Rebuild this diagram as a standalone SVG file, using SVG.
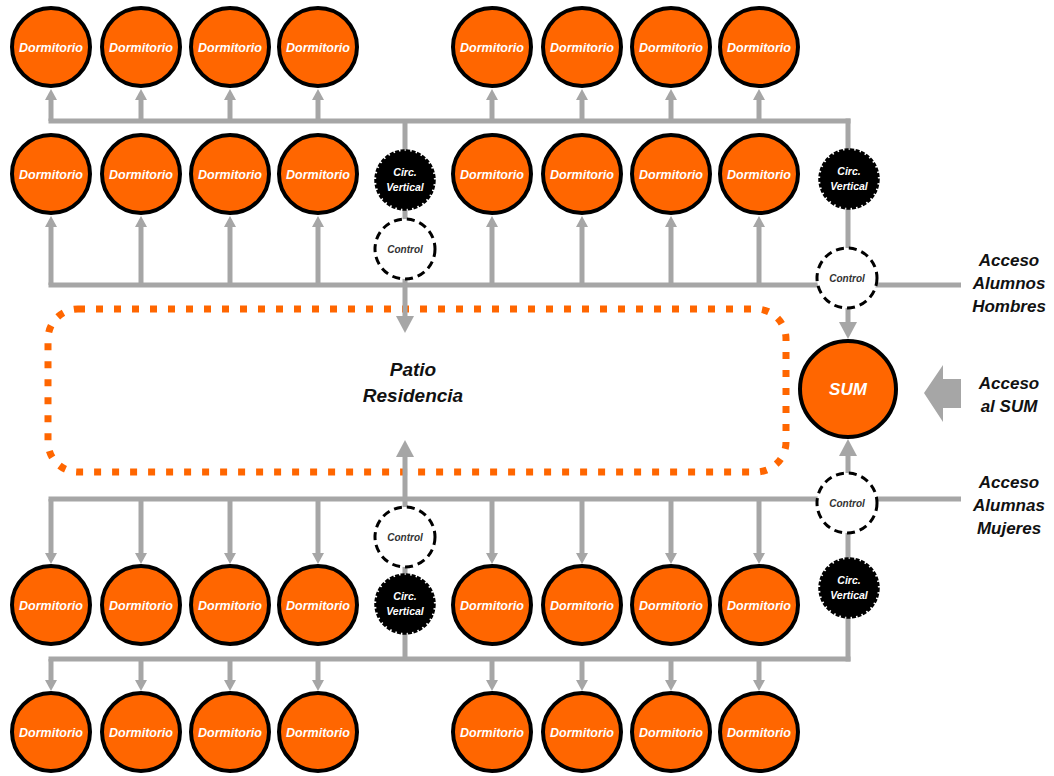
<svg xmlns="http://www.w3.org/2000/svg" width="1054" height="776" viewBox="0 0 1054 776">
  <style>
    .bus { stroke: #a6a6a6; stroke-width: 5; fill: none; }
    .dorm circle { fill: #ff6600; stroke: #000; stroke-width: 4; }
    .dorm text { font-family: "Liberation Sans", Arial, sans-serif; font-weight: bold; font-style: italic; font-size: 12.5px; fill: #fff; text-anchor: middle; }
    .cv .core { fill: #000; }
    .cv .edge { fill: none; stroke: #000; stroke-width: 3.5; stroke-dasharray: 4 1.5; }
    .cv text { font-family: "Liberation Sans", Arial, sans-serif; font-weight: bold; font-style: italic; font-size: 10.5px; fill: #fff; text-anchor: middle; }
    .ctl circle { fill: #fff; stroke: #000; stroke-width: 3; stroke-dasharray: 8 5; }
    .ctl text { font-family: "Liberation Sans", Arial, sans-serif; font-weight: bold; font-style: italic; font-size: 10px; fill: #333; text-anchor: middle; }
    .label { font-family: "Liberation Sans", Arial, sans-serif; font-weight: bold; font-style: italic; font-size: 17px; fill: #111; text-anchor: middle; }
    .patio-label { font-family: "Liberation Sans", Arial, sans-serif; font-weight: bold; font-style: italic; font-size: 19px; fill: #111; text-anchor: middle; }
  </style>
  <defs>
    <marker id="head" markerUnits="userSpaceOnUse" markerWidth="12" markerHeight="12" refX="0" refY="6" orient="auto" viewBox="0 0 12 12">
      <path d="M0,0 L11,6 L0,12 z" fill="#a6a6a6"/>
    </marker>
    <marker id="headBig" markerUnits="userSpaceOnUse" markerWidth="17" markerHeight="18" refX="0" refY="9" orient="auto" viewBox="0 0 17 18">
      <path d="M0,0 L17,9 L0,18 z" fill="#a6a6a6"/>
    </marker>
  </defs>

  <!-- courtyard -->
  <g id="patio">
    <rect x="48" y="309" width="738" height="163" rx="30" ry="30" fill="none" stroke="#ff6600" stroke-width="7" stroke-dasharray="7 11"/>
    <text class="patio-label" x="413" y="376">Patio</text>
    <text class="patio-label" x="413" y="402">Residencia</text>
  </g>

  <!-- circulation lines -->
  <g id="connectors">
    <!-- upper block buses -->
    <line class="bus" x1="48.5" y1="121" x2="850.5" y2="121"/>
    <line class="bus" x1="48.5" y1="285" x2="961" y2="285"/>
    <!-- lower block buses -->
    <line class="bus" x1="48.5" y1="499" x2="961" y2="499"/>
    <line class="bus" x1="48.5" y1="659" x2="850.5" y2="659"/>

    <!-- upper row 1 -->
    <line class="bus" x1="51" y1="121" x2="51" y2="100" marker-end="url(#head)"/>
    <line class="bus" x1="141" y1="121" x2="141" y2="100" marker-end="url(#head)"/>
    <line class="bus" x1="230" y1="121" x2="230" y2="100" marker-end="url(#head)"/>
    <line class="bus" x1="318" y1="121" x2="318" y2="100" marker-end="url(#head)"/>
    <line class="bus" x1="492" y1="121" x2="492" y2="100" marker-end="url(#head)"/>
    <line class="bus" x1="582" y1="121" x2="582" y2="100" marker-end="url(#head)"/>
    <line class="bus" x1="671" y1="121" x2="671" y2="100" marker-end="url(#head)"/>
    <line class="bus" x1="759" y1="121" x2="759" y2="100" marker-end="url(#head)"/>

    <!-- upper row 2 -->
    <line class="bus" x1="51" y1="285" x2="51" y2="227" marker-end="url(#head)"/>
    <line class="bus" x1="141" y1="285" x2="141" y2="227" marker-end="url(#head)"/>
    <line class="bus" x1="230" y1="285" x2="230" y2="227" marker-end="url(#head)"/>
    <line class="bus" x1="318" y1="285" x2="318" y2="227" marker-end="url(#head)"/>
    <line class="bus" x1="492" y1="285" x2="492" y2="227" marker-end="url(#head)"/>
    <line class="bus" x1="582" y1="285" x2="582" y2="227" marker-end="url(#head)"/>
    <line class="bus" x1="671" y1="285" x2="671" y2="227" marker-end="url(#head)"/>
    <line class="bus" x1="759" y1="285" x2="759" y2="227" marker-end="url(#head)"/>

    <!-- lower row 3 -->
    <line class="bus" x1="51" y1="499" x2="51" y2="553" marker-end="url(#head)"/>
    <line class="bus" x1="141" y1="499" x2="141" y2="553" marker-end="url(#head)"/>
    <line class="bus" x1="230" y1="499" x2="230" y2="553" marker-end="url(#head)"/>
    <line class="bus" x1="318" y1="499" x2="318" y2="553" marker-end="url(#head)"/>
    <line class="bus" x1="492" y1="499" x2="492" y2="553" marker-end="url(#head)"/>
    <line class="bus" x1="582" y1="499" x2="582" y2="553" marker-end="url(#head)"/>
    <line class="bus" x1="671" y1="499" x2="671" y2="553" marker-end="url(#head)"/>
    <line class="bus" x1="759" y1="499" x2="759" y2="553" marker-end="url(#head)"/>

    <!-- lower row 4 -->
    <line class="bus" x1="51" y1="659" x2="51" y2="680" marker-end="url(#head)"/>
    <line class="bus" x1="141" y1="659" x2="141" y2="680" marker-end="url(#head)"/>
    <line class="bus" x1="230" y1="659" x2="230" y2="680" marker-end="url(#head)"/>
    <line class="bus" x1="318" y1="659" x2="318" y2="680" marker-end="url(#head)"/>
    <line class="bus" x1="492" y1="659" x2="492" y2="680" marker-end="url(#head)"/>
    <line class="bus" x1="582" y1="659" x2="582" y2="680" marker-end="url(#head)"/>
    <line class="bus" x1="671" y1="659" x2="671" y2="680" marker-end="url(#head)"/>
    <line class="bus" x1="759" y1="659" x2="759" y2="680" marker-end="url(#head)"/>

    <!-- central stair cores into the courtyard -->
    <line class="bus" x1="405" y1="121" x2="405" y2="316" marker-end="url(#headBig)"/>
    <line class="bus" x1="405" y1="659" x2="405" y2="457" marker-end="url(#headBig)"/>

    <!-- side stair cores into the SUM -->
    <line class="bus" x1="848" y1="118.5" x2="848" y2="322" marker-end="url(#headBig)"/>
    <line class="bus" x1="848" y1="661.5" x2="848" y2="456" marker-end="url(#headBig)"/>

    <!-- SUM entrance -->
    <polygon points="924,393 943,365 943,379 961,379 961,408 943,408 943,422" fill="#a6a6a6"/>
  </g>

  <!-- bedrooms, upper block -->
  <g id="dorm-1-1" class="dorm"><circle cx="51" cy="47" r="39"/><text x="51" y="52">Dormitorio</text></g>
  <g id="dorm-1-2" class="dorm"><circle cx="141" cy="47" r="39"/><text x="141" y="52">Dormitorio</text></g>
  <g id="dorm-1-3" class="dorm"><circle cx="230" cy="47" r="39"/><text x="230" y="52">Dormitorio</text></g>
  <g id="dorm-1-4" class="dorm"><circle cx="318" cy="47" r="39"/><text x="318" y="52">Dormitorio</text></g>
  <g id="dorm-1-5" class="dorm"><circle cx="492" cy="47" r="39"/><text x="492" y="52">Dormitorio</text></g>
  <g id="dorm-1-6" class="dorm"><circle cx="582" cy="47" r="39"/><text x="582" y="52">Dormitorio</text></g>
  <g id="dorm-1-7" class="dorm"><circle cx="671" cy="47" r="39"/><text x="671" y="52">Dormitorio</text></g>
  <g id="dorm-1-8" class="dorm"><circle cx="759" cy="47" r="39"/><text x="759" y="52">Dormitorio</text></g>

  <g id="dorm-2-1" class="dorm"><circle cx="51" cy="174" r="39"/><text x="51" y="179">Dormitorio</text></g>
  <g id="dorm-2-2" class="dorm"><circle cx="141" cy="174" r="39"/><text x="141" y="179">Dormitorio</text></g>
  <g id="dorm-2-3" class="dorm"><circle cx="230" cy="174" r="39"/><text x="230" y="179">Dormitorio</text></g>
  <g id="dorm-2-4" class="dorm"><circle cx="318" cy="174" r="39"/><text x="318" y="179">Dormitorio</text></g>
  <g id="dorm-2-5" class="dorm"><circle cx="492" cy="174" r="39"/><text x="492" y="179">Dormitorio</text></g>
  <g id="dorm-2-6" class="dorm"><circle cx="582" cy="174" r="39"/><text x="582" y="179">Dormitorio</text></g>
  <g id="dorm-2-7" class="dorm"><circle cx="671" cy="174" r="39"/><text x="671" y="179">Dormitorio</text></g>
  <g id="dorm-2-8" class="dorm"><circle cx="759" cy="174" r="39"/><text x="759" y="179">Dormitorio</text></g>

  <!-- bedrooms, lower block -->
  <g id="dorm-3-1" class="dorm"><circle cx="51" cy="605" r="39"/><text x="51" y="610">Dormitorio</text></g>
  <g id="dorm-3-2" class="dorm"><circle cx="141" cy="605" r="39"/><text x="141" y="610">Dormitorio</text></g>
  <g id="dorm-3-3" class="dorm"><circle cx="230" cy="605" r="39"/><text x="230" y="610">Dormitorio</text></g>
  <g id="dorm-3-4" class="dorm"><circle cx="318" cy="605" r="39"/><text x="318" y="610">Dormitorio</text></g>
  <g id="dorm-3-5" class="dorm"><circle cx="492" cy="605" r="39"/><text x="492" y="610">Dormitorio</text></g>
  <g id="dorm-3-6" class="dorm"><circle cx="582" cy="605" r="39"/><text x="582" y="610">Dormitorio</text></g>
  <g id="dorm-3-7" class="dorm"><circle cx="671" cy="605" r="39"/><text x="671" y="610">Dormitorio</text></g>
  <g id="dorm-3-8" class="dorm"><circle cx="759" cy="605" r="39"/><text x="759" y="610">Dormitorio</text></g>

  <g id="dorm-4-1" class="dorm"><circle cx="51" cy="732" r="39"/><text x="51" y="737">Dormitorio</text></g>
  <g id="dorm-4-2" class="dorm"><circle cx="141" cy="732" r="39"/><text x="141" y="737">Dormitorio</text></g>
  <g id="dorm-4-3" class="dorm"><circle cx="230" cy="732" r="39"/><text x="230" y="737">Dormitorio</text></g>
  <g id="dorm-4-4" class="dorm"><circle cx="318" cy="732" r="39"/><text x="318" y="737">Dormitorio</text></g>
  <g id="dorm-4-5" class="dorm"><circle cx="492" cy="732" r="39"/><text x="492" y="737">Dormitorio</text></g>
  <g id="dorm-4-6" class="dorm"><circle cx="582" cy="732" r="39"/><text x="582" y="737">Dormitorio</text></g>
  <g id="dorm-4-7" class="dorm"><circle cx="671" cy="732" r="39"/><text x="671" y="737">Dormitorio</text></g>
  <g id="dorm-4-8" class="dorm"><circle cx="759" cy="732" r="39"/><text x="759" y="737">Dormitorio</text></g>

  <!-- vertical circulation cores -->
  <g id="circ-top-center" class="cv"><circle class="core" cx="405" cy="180" r="29"/><circle class="edge" cx="405" cy="180" r="29"/><text x="405" y="176">Circ.</text><text x="405" y="191">Vertical</text></g>
  <g id="circ-top-right" class="cv"><circle class="core" cx="849" cy="179" r="29"/><circle class="edge" cx="849" cy="179" r="29"/><text x="849" y="175">Circ.</text><text x="849" y="190">Vertical</text></g>
  <g id="circ-bottom-center" class="cv"><circle class="core" cx="405" cy="604" r="29"/><circle class="edge" cx="405" cy="604" r="29"/><text x="405" y="600">Circ.</text><text x="405" y="615">Vertical</text></g>
  <g id="circ-bottom-right" class="cv"><circle class="core" cx="849" cy="588" r="29"/><circle class="edge" cx="849" cy="588" r="29"/><text x="849" y="584">Circ.</text><text x="849" y="599">Vertical</text></g>

  <!-- control points -->
  <g id="control-top-center" class="ctl"><circle cx="405" cy="249" r="30"/><text x="405" y="253">Control</text></g>
  <g id="control-top-right" class="ctl"><circle cx="847" cy="278" r="30"/><text x="847" y="282">Control</text></g>
  <g id="control-bottom-center" class="ctl"><circle cx="405" cy="537" r="30"/><text x="405" y="541">Control</text></g>
  <g id="control-bottom-right" class="ctl"><circle cx="847" cy="503" r="30"/><text x="847" y="507">Control</text></g>

  <!-- multipurpose hall -->
  <g id="sum">
    <circle cx="848" cy="389" r="48" fill="#ff6600" stroke="#000" stroke-width="4"/>
    <text x="848" y="395" font-family="Liberation Sans, Arial, sans-serif" font-weight="bold" font-style="italic" font-size="17" fill="#fff" text-anchor="middle">SUM</text>
  </g>

  <!-- entrances -->
  <g id="acceso-hombres">
    <text class="label" x="1009" y="266">Acceso</text>
    <text class="label" x="1009" y="289">Alumnos</text>
    <text class="label" x="1009" y="312">Hombres</text>
  </g>
  <g id="acceso-sum">
    <text class="label" x="1009" y="389">Acceso</text>
    <text class="label" x="1009" y="412">al SUM</text>
  </g>
  <g id="acceso-mujeres">
    <text class="label" x="1009" y="488">Acceso</text>
    <text class="label" x="1009" y="511">Alumnas</text>
    <text class="label" x="1009" y="534">Mujeres</text>
  </g>
</svg>
